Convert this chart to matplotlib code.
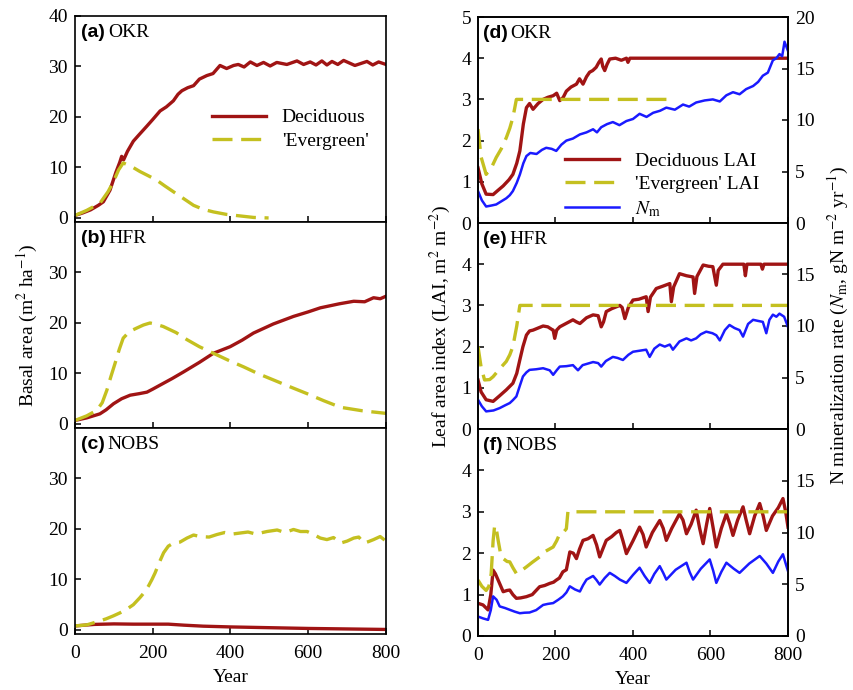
import matplotlib
matplotlib.use("Agg")
import matplotlib.pyplot as plt

plt.rcParams["font.family"] = "Liberation Serif"
plt.rcParams["mathtext.fontset"] = "stix"
plt.rcParams["font.size"] = 14

DEC = "#a01414"
EVG = "#c4c020"
NM = "#1a1aff"

# ---- basal area (left column) ----
okr_dec_yr = [0, 20, 40, 60, 73, 90, 105, 115, 120, 125, 135, 150, 165, 185, 200, 219, 235, 253, 265, 275,
              290, 305, 320, 339, 355, 373, 390, 408, 420, 435, 451, 468, 485, 502, 519, 545, 571, 588, 605,
              620, 635, 648, 661, 676, 691, 720, 751, 766, 781, 800]
okr_dec_ba = [0.5, 1.0, 1.6, 2.5, 3.2, 5.5, 9.0, 11.0, 12.2, 11.5, 13.2, 15.2, 16.5, 18.2, 19.5, 21.2, 22.0,
              23.2, 24.5, 25.2, 25.8, 26.2, 27.5, 28.2, 28.6, 30.2, 29.6, 30.2, 30.4, 29.9, 30.9, 30.2, 30.8,
              30.1, 30.8, 30.4, 31.1, 30.4, 30.9, 30.3, 31.1, 30.3, 31.0, 30.4, 31.2, 30.2, 31.0, 30.3, 30.9, 30.4]
okr_evg_yr = [0, 30, 64, 85, 99, 112, 124, 145, 167, 190, 210, 230, 253, 280, 305, 330, 356, 390, 425, 460, 498]
okr_evg_ba = [0.5, 1.5, 2.9, 5.2, 7.2, 9.5, 10.9, 10.2, 9.2, 8.3, 7.5, 6.4, 5.2, 3.8, 2.5, 1.7, 1.2, 0.7, 0.4,
              0.1, 0.0]

hfr_dec_yr = [0, 30, 64, 80, 99, 120, 142, 165, 185, 200, 219, 250, 279, 320, 356, 399, 430, 459, 510, 562,
              600, 631, 680, 717, 745, 768, 785, 800]
hfr_dec_ba = [0.7, 1.2, 2.0, 2.8, 4.0, 5.0, 5.7, 6.0, 6.3, 6.9, 7.7, 9.0, 10.3, 12.2, 14.0, 15.3, 16.6, 18.0,
              19.8, 21.3, 22.2, 23.0, 23.8, 24.3, 24.2, 25.0, 24.8, 25.3]
hfr_evg_yr = [0, 30, 56, 70, 82, 92, 103, 114, 124, 140, 159, 176, 193, 210, 227, 260, 288, 320, 356, 395,
              434, 470, 511, 555, 597, 640, 683, 740, 800]
hfr_evg_ba = [0.7, 1.6, 2.7, 4.2, 6.7, 9.3, 12.0, 14.8, 17.0, 18.3, 19.0, 19.6, 20.0, 19.7, 19.3, 18.1, 16.7,
              15.3, 14.0, 12.6, 11.3, 10.0, 8.7, 7.3, 6.0, 4.6, 3.3, 2.6, 2.1]

nobs_dec_yr = [0, 50, 100, 150, 200, 240, 280, 330, 400, 500, 600, 700, 800]
nobs_dec_ba = [0.8, 1.1, 1.2, 1.15, 1.15, 1.15, 0.95, 0.75, 0.6, 0.45, 0.3, 0.2, 0.1]
nobs_evg_yr = [0, 30, 56, 80, 99, 116, 133, 150, 167, 180, 189, 198, 206, 217, 228, 240, 253, 270, 288, 305,
               322, 345, 365, 385, 405, 425, 445, 465, 494, 520, 540, 562, 580, 597, 614, 631, 648, 665, 683,
               700, 717, 730, 743, 755, 768, 785, 800]
nobs_evg_ba = [0.8, 1.0, 1.6, 2.2, 2.8, 3.4, 4.1, 5.0, 6.4, 7.6, 8.7, 10.0, 11.3, 13.4, 15.3, 16.6, 17.2, 17.4,
               18.2, 18.8, 18.5, 18.4, 18.9, 19.3, 19.0, 19.2, 19.4, 19.0, 19.5, 19.8, 19.3, 19.9, 19.5, 19.5,
               18.9, 18.2, 17.9, 18.3, 17.2, 17.6, 18.2, 18.4, 17.2, 17.5, 17.9, 18.5, 17.6]

# ---- LAI and N mineralization (right column) ----
okr_dec_lai_yr = [0, 10, 21, 39, 50, 65, 80, 90, 100, 108, 117, 125, 133, 142, 155, 168, 180, 194, 203, 211,
                  220, 228, 240, 254, 262, 271, 280, 288, 296, 305, 312, 318, 322, 327, 333, 340, 355, 370,
                  383, 387, 392, 400, 800]
okr_dec_lai = [1.34, 0.95, 0.70, 0.69, 0.78, 0.90, 1.05, 1.18, 1.45, 1.75, 2.4, 2.8, 2.9, 2.76, 2.9, 3.0, 3.05,
               3.09, 3.15, 2.97, 3.05, 3.2, 3.3, 3.37, 3.5, 3.37, 3.55, 3.66, 3.7, 3.78, 3.9, 3.98, 3.8, 3.7,
               3.85, 3.98, 4.0, 3.95, 4.0, 3.9, 4.0, 4.0, 4.0]
okr_evg_lai_yr = [0, 8, 21, 35, 47, 60, 73, 82, 90, 95, 99, 490]
okr_evg_lai = [2.28, 1.6, 1.18, 1.35, 1.59, 1.8, 2.07, 2.3, 2.56, 2.8, 3.0, 3.0]
okr_nm_yr = [0, 10, 21, 35, 47, 60, 73, 82, 90, 100, 108, 117, 125, 135, 151, 165, 176, 190, 202, 215, 228,
             245, 263, 280, 297, 307, 318, 333, 348, 365, 383, 400, 417, 435, 452, 470, 486, 508, 529, 545,
             563, 585, 606, 624, 641, 658, 675, 692, 710, 723, 735, 748, 761, 770, 778, 785, 791, 800]
okr_nm = [3.1, 2.2, 1.6, 1.7, 1.8, 2.1, 2.4, 2.7, 3.1, 3.9, 4.7, 5.8, 6.5, 6.8, 6.7, 7.1, 7.3, 7.2, 7.0, 7.6,
          8.0, 8.2, 8.6, 8.8, 9.1, 8.8, 9.3, 9.6, 9.8, 9.5, 9.9, 10.1, 10.6, 10.3, 10.7, 10.9, 11.2, 11.0,
          11.5, 11.3, 11.7, 11.9, 12.0, 11.8, 12.4, 12.7, 12.5, 13.0, 13.3, 13.7, 14.3, 14.6, 15.8, 16.0,
          16.4, 16.2, 17.6, 16.7]

hfr_dec_lai_yr = [0, 8, 21, 39, 55, 73, 90, 100, 108, 116, 125, 133, 142, 155, 168, 180, 190, 194, 198, 203,
                  211, 225, 245, 254, 263, 280, 297, 310, 318, 324, 331, 345, 366, 372, 379, 388, 400, 415,
                  434, 439, 445, 460, 478, 495, 499, 505, 520, 538, 555, 559, 565, 581, 595, 606, 615, 620,
                  632, 660, 686, 690, 694, 730, 734, 738, 800]
hfr_dec_lai = [1.19, 0.9, 0.71, 0.67, 0.8, 0.95, 1.11, 1.35, 1.68, 2.0, 2.28, 2.38, 2.4, 2.45, 2.5, 2.48, 2.42,
               2.4, 2.2, 2.4, 2.48, 2.55, 2.65, 2.6, 2.56, 2.7, 2.77, 2.75, 2.48, 2.6, 2.85, 2.92, 3.0, 2.95,
               2.68, 2.95, 3.13, 3.15, 3.21, 2.85, 3.2, 3.41, 3.47, 3.53, 3.09, 3.45, 3.77, 3.72, 3.69, 3.29,
               3.7, 3.98, 3.95, 3.94, 3.49, 3.85, 4.0, 4.0, 4.0, 3.72, 4.0, 4.0, 3.88, 4.0, 4.0]
hfr_evg_lai_yr = [0, 8, 17, 30, 39, 55, 73, 82, 90, 100, 108, 800]
hfr_evg_lai = [2.0, 1.5, 1.19, 1.2, 1.27, 1.45, 1.64, 1.8, 2.0, 2.5, 3.0, 3.0]
hfr_nm_yr = [0, 10, 21, 40, 56, 70, 82, 90, 99, 108, 116, 125, 133, 150, 168, 185, 194, 203, 211, 228, 245,
             258, 270, 297, 310, 318, 330, 348, 360, 374, 388, 400, 417, 434, 443, 455, 469, 482, 495, 503,
             520, 538, 550, 563, 575, 589, 605, 615, 624, 637, 649, 662, 675, 684, 697, 710, 722, 735, 744,
             752, 761, 770, 778, 790, 800]
hfr_nm = [2.84, 2.2, 1.71, 1.8, 2.03, 2.3, 2.52, 2.8, 3.16, 4.2, 5.1, 5.5, 5.74, 5.8, 5.9, 5.7, 5.26, 5.7,
          6.06, 6.1, 6.2, 5.7, 6.2, 6.5, 6.4, 6.06, 6.6, 7.0, 6.9, 6.7, 7.2, 7.5, 7.6, 7.7, 7.0, 7.8, 8.2,
          8.0, 8.2, 7.7, 8.5, 8.8, 8.6, 8.8, 9.2, 9.45, 9.3, 9.1, 8.6, 9.6, 10.1, 9.8, 9.6, 8.97, 10.2, 10.6,
          10.5, 10.4, 9.3, 10.6, 11.1, 10.9, 11.2, 10.9, 9.9]

nobs_dec_lai_yr = [0, 13, 26, 33, 39, 45, 52, 65, 75, 82, 90, 99, 110, 125, 140, 159, 172, 185, 195, 202, 210,
                   219, 228, 237, 246, 254, 262, 271, 284, 297, 306, 314, 322, 331, 345, 357, 366, 374, 383,
                   400, 417, 426, 434, 450, 469, 478, 486, 500, 520, 529, 538, 550, 563, 572, 581, 590, 598,
                   607, 615, 628, 641, 650, 658, 670, 684, 692, 701, 714, 727, 736, 744, 760, 775, 787, 794, 800]
nobs_dec_lai = [0.79, 0.75, 0.63, 1.0, 1.59, 1.5, 1.35, 1.07, 1.1, 1.11, 1.0, 0.91, 0.92, 0.95, 1.0, 1.19, 1.22,
                1.27, 1.3, 1.35, 1.4, 1.55, 1.6, 2.03, 2.0, 1.87, 2.1, 2.31, 2.35, 2.43, 2.2, 1.91, 2.1, 2.31,
                2.4, 2.5, 2.55, 2.3, 1.99, 2.3, 2.63, 2.45, 2.15, 2.5, 2.79, 2.6, 2.31, 2.6, 2.95, 2.8, 2.47,
                2.7, 3.04, 2.6, 2.23, 2.7, 3.08, 2.6, 2.15, 2.6, 2.95, 2.7, 2.43, 2.8, 3.12, 2.8, 2.47, 2.9,
                3.2, 2.9, 2.55, 2.9, 3.1, 3.32, 3.0, 2.63]
nobs_evg_lai_yr = [0, 10, 21, 28, 34, 39, 43, 47, 52, 58, 65, 75, 82, 90, 99, 112, 125, 140, 159, 175, 194,
                   203, 211, 220, 228, 232, 800]
nobs_evg_lai = [1.35, 1.2, 1.1, 1.2, 1.5, 2.3, 2.67, 2.6, 2.31, 2.0, 1.87, 1.8, 1.79, 1.65, 1.51, 1.58, 1.67,
                1.78, 1.91, 2.05, 2.15, 2.3, 2.47, 2.5, 2.59, 3.0, 3.0]
nobs_nm_yr = [0, 13, 26, 33, 39, 48, 56, 70, 82, 95, 108, 120, 133, 150, 168, 180, 194, 207, 219, 228, 237,
              250, 263, 271, 280, 297, 306, 314, 327, 340, 353, 366, 374, 383, 400, 417, 430, 443, 455, 469,
              478, 486, 510, 538, 546, 555, 575, 598, 607, 615, 628, 641, 660, 675, 700, 727, 744, 761, 775,
              787, 794, 800]
nobs_nm = [1.88, 1.7, 1.56, 2.5, 3.83, 3.5, 2.86, 2.7, 2.53, 2.35, 2.2, 2.25, 2.27, 2.5, 3.0, 3.1, 3.18, 3.5,
           3.83, 4.2, 4.8, 4.5, 4.3, 4.9, 5.45, 5.8, 5.4, 4.97, 5.6, 6.1, 5.8, 5.45, 5.3, 5.13, 5.9, 6.6, 5.8,
           5.13, 6.0, 6.75, 6.1, 5.45, 6.4, 7.08, 6.2, 5.45, 6.5, 7.4, 6.3, 5.13, 6.2, 7.08, 6.5, 6.1, 7.0,
           7.73, 7.0, 6.1, 7.2, 7.9, 7.0, 6.27]

sites = ["OKR", "HFR", "NOBS"]
xticks = [0, 200, 400, 600, 800]

W, H = 854, 690
fig = plt.figure(figsize=(W / 100, H / 100), dpi=100)


def px_axes(x0, y0, x1, y1):
    return fig.add_axes([x0 / W, 1 - y1 / H, (x1 - x0) / W, (y1 - y0) / H])


def style(ax):
    ax.tick_params(direction="in", length=4, width=1.1, labelsize=14, pad=5)
    ax.tick_params(axis="x", pad=8)
    for s in ax.spines.values():
        s.set_linewidth(1.2)


def panel_label(ax, letter, site, x):
    t = ax.text(x, 0.92, f"({letter})", transform=ax.transAxes, family="Liberation Sans",
                fontweight="bold", fontsize=14, va="center", ha="left")
    ax.annotate(site, xy=(1, 0.5), xycoords=t, xytext=(2, 0), textcoords="offset points",
                fontsize=14, va="center", ha="left")


dash = (6, 2.6)
rows = [(16, 222), (222, 428), (428, 634)]
left_axes = []
ba_data = [(okr_dec_yr, okr_dec_ba, okr_evg_yr, okr_evg_ba),
           (hfr_dec_yr, hfr_dec_ba, hfr_evg_yr, hfr_evg_ba),
           (nobs_dec_yr, nobs_dec_ba, nobs_evg_yr, nobs_evg_ba)]
for i, ((y0, y1), (dy, dv, ey, ev)) in enumerate(zip(rows, ba_data)):
    ax = px_axes(75, y0, 386, y1)
    ax.plot(dy, dv, color=DEC, lw=2.4, label="Deciduous")
    ax.plot(ey, ev, color=EVG, lw=2.4, dashes=dash, label="'Evergreen'")
    ax.set_xlim(0, 800)
    ax.set_ylim(-0.8, 40)
    ax.set_xticks(xticks)
    ax.set_yticks([0, 10, 20, 30, 40] if i == 0 else [0, 10, 20, 30])
    style(ax)
    if i < 2:
        ax.tick_params(labelbottom=False)
    panel_label(ax, "abc"[i], sites[i], 0.02)
    left_axes.append(ax)

left_axes[0].legend(loc="upper left", bbox_to_anchor=(0.44, 0.55), frameon=False, fontsize=14,
                    handlelength=2.8, labelspacing=0.3, borderpad=0, borderaxespad=0)
left_axes[1].set_ylabel("Basal area (m$^2$ ha$^{-1}$)", fontsize=14, labelpad=6)
left_axes[2].set_xlabel("Year", fontsize=14, labelpad=5)

rows_r = [(17, 223), (223, 429), (429, 636)]
lai_data = [(okr_dec_lai_yr, okr_dec_lai, okr_evg_lai_yr, okr_evg_lai, okr_nm_yr, okr_nm),
            (hfr_dec_lai_yr, hfr_dec_lai, hfr_evg_lai_yr, hfr_evg_lai, hfr_nm_yr, hfr_nm),
            (nobs_dec_lai_yr, nobs_dec_lai, nobs_evg_lai_yr, nobs_evg_lai, nobs_nm_yr, nobs_nm)]
right_axes = []
for i, ((y0, y1), (dy, dv, ey, ev, ny, nv)) in enumerate(zip(rows_r, lai_data)):
    ax = px_axes(478, y0, 788, y1)
    h1, = ax.plot(dy, dv, color=DEC, lw=2.4, label="Deciduous LAI")
    h2, = ax.plot(ey, ev, color=EVG, lw=2.4, dashes=dash, label="'Evergreen' LAI")
    ax.set_xlim(0, 800)
    ax.set_ylim(0, 5)
    ax.set_xticks(xticks)
    ax.set_yticks([0, 1, 2, 3, 4, 5] if i == 0 else [0, 1, 2, 3, 4])
    style(ax)
    if i < 2:
        ax.tick_params(labelbottom=False)
    ax2 = ax.twinx()
    h3, = ax2.plot(ny, nv, color=NM, lw=1.8, label="$N_\\mathrm{m}$")
    ax2.set_ylim(0, 20)
    ax2.set_yticks([0, 5, 10, 15, 20] if i == 0 else [0, 5, 10, 15])
    style(ax2)
    panel_label(ax, "def"[i], sites[i], 0.015)
    right_axes.append((ax, ax2))
    if i == 0:
        ax.legend(handles=[h1, h2, h3], loc="upper left", bbox_to_anchor=(0.28, 0.345), frameon=False,
                  fontsize=14, handlelength=2.8, labelspacing=0.3, borderpad=0, borderaxespad=0)

right_axes[1][0].set_ylabel("Leaf area index (LAI, m$^2$ m$^{-2}$)", fontsize=14, labelpad=6)
right_axes[1][1].set_ylabel("N mineralization rate ($N_\\mathrm{m}$, gN m$^{-2}$ yr$^{-1}$)",
                            fontsize=14, rotation=90, labelpad=8)
right_axes[2][0].set_xlabel("Year", fontsize=14, labelpad=5)

fig.savefig("out.png", dpi=100)
